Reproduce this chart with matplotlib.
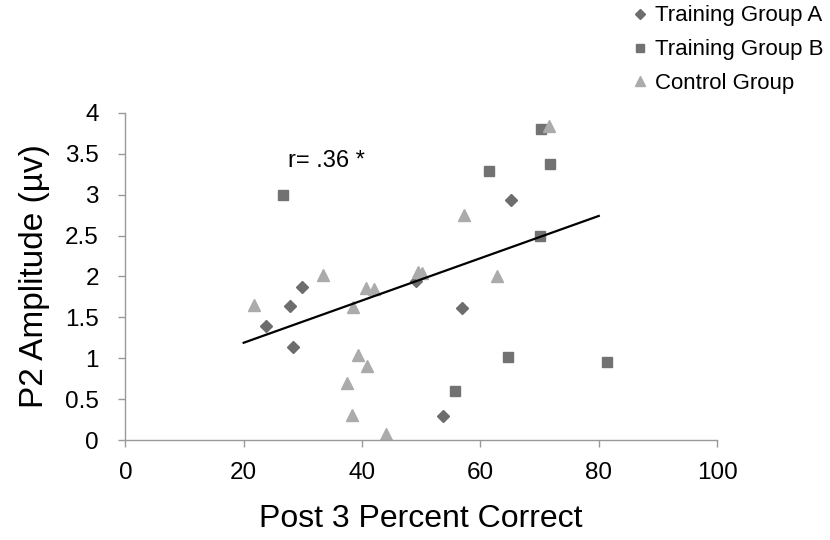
import numpy as np
import matplotlib.pyplot as plt

plt.rcParams['font.family'] = ['Liberation Sans', 'DejaVu Sans']

# Training Group A (diamonds)
group_a_x = [23.8, 27.9, 29.9, 28.4, 49.2, 53.6, 56.9, 65.1]
group_a_y = [1.40, 1.64, 1.87, 1.14, 1.94, 0.30, 1.62, 2.94]

# Training Group B (squares)
group_b_x = [26.6, 55.7, 61.4, 64.6, 70.1, 70.3, 71.8, 81.4]
group_b_y = [2.99, 0.60, 3.29, 1.02, 2.50, 3.80, 3.37, 0.95]

# Control Group (triangles)
control_x = [21.7, 33.4, 37.5, 38.3, 38.4, 39.4, 40.7, 40.9, 42.0, 44.0,
             49.4, 50.1, 57.2, 62.8, 71.6]
control_y = [1.65, 2.02, 0.70, 0.31, 1.63, 1.04, 1.86, 0.91, 1.85, 0.07,
             2.05, 2.04, 2.75, 2.01, 3.84]

# trend line end points
trend_x = [20, 80]
trend_y = [1.19, 2.74]

fig = plt.figure(figsize=(8.3, 5.4), dpi=100)
ax = fig.add_axes([0.151, 0.185, 0.713, 0.606])

ax.plot(group_a_x, group_a_y, linestyle='none', marker='D', ms=6.5,
        color='#6d6d6d', label='Training Group A')
ax.plot(group_b_x, group_b_y, linestyle='none', marker='s', ms=7.5,
        color='#727272', label='Training Group B')
ax.plot(control_x, control_y, linestyle='none', marker='^', ms=9,
        color='#ababab', label='Control Group')
ax.plot(trend_x, trend_y, color='black', lw=1.6)

ax.text(27.5, 3.41, 'r= .36 *', fontsize=17, va='center', ha='left')

ax.set_xlim(0, 100)
ax.set_ylim(0, 4)
ax.set_xticks(np.arange(0, 101, 20))
ax.set_yticks(np.arange(0, 4.01, 0.5))
ax.set_yticklabels(['0', '0.5', '1', '1.5', '2', '2.5', '3', '3.5', '4'])

for s in ['top', 'right']:
    ax.spines[s].set_visible(False)
for s in ['left', 'bottom']:
    ax.spines[s].set_color('#999999')
    ax.spines[s].set_linewidth(1.0)
ax.tick_params(colors='#999999', labelcolor='black', labelsize=17.5,
               length=5, width=1.0)
ax.tick_params(axis='x', pad=11)
ax.tick_params(axis='y', pad=14)

ax.set_xlabel('Post 3 Percent Correct', fontsize=23)
ax.set_ylabel('P2 Amplitude (µv)', fontsize=24)
ax.xaxis.set_label_coords(0.5, -0.196)
ax.yaxis.set_label_coords(-0.128, 0.5)

fig.legend(loc='upper left', bbox_to_anchor=(0.758, 0.990), frameon=False,
           fontsize=16, handletextpad=0.15, labelspacing=0.58,
           handlelength=1.0, borderaxespad=0, borderpad=0, markerscale=0.8)

plt.savefig('out.png', dpi=100)
